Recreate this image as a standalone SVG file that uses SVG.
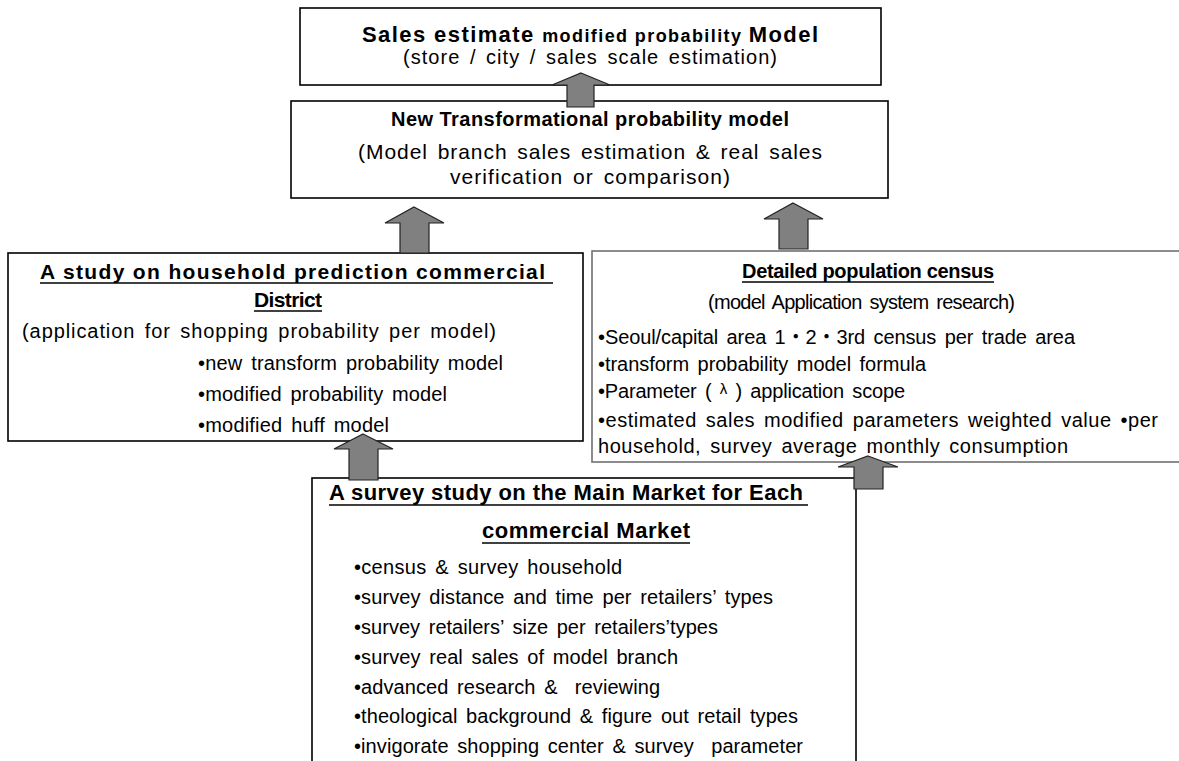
<svg xmlns="http://www.w3.org/2000/svg" width="1179" height="761" viewBox="0 0 1179 761">
<defs>
<style>
.box{fill:#fff;stroke:#000;stroke-width:1.6}
.gray{stroke:#707070}
text{font-family:"Liberation Sans",Arial,"Noto Sans CJK KR",sans-serif;fill:#000}
.b{font-weight:bold}
.r{font-size:20px;word-spacing:3px}
.ul{stroke:#000;stroke-width:1.3}
.arrow{fill:#808080;stroke:#222;stroke-width:1.2}
</style>
</defs>
<rect width="1179" height="761" fill="#fff"/>

<g id="node-sales-estimate">
<rect class="box" x="300" y="8" width="581" height="77"/>
<text class="b" x="590" y="42" text-anchor="middle" textLength="456" lengthAdjust="spacing"><tspan font-size="22">Sales estimate </tspan><tspan font-size="18">modified probability </tspan><tspan font-size="22">Model</tspan></text>
<text class="r" x="590" y="64" text-anchor="middle" font-size="21" textLength="374" lengthAdjust="spacing">(store / city / sales scale estimation)</text>
</g>

<g id="node-new-transformational">
<rect class="box" x="291" y="101" width="597" height="97"/>
<text class="b" x="590" y="126" text-anchor="middle" font-size="20" textLength="398" lengthAdjust="spacing">New Transformational probability model</text>
<text class="r" x="590" y="159" text-anchor="middle" style="font-size:21px" textLength="464" lengthAdjust="spacing">(Model branch sales estimation &amp; real sales</text>
<text class="r" x="590" y="184" text-anchor="middle" style="font-size:21px" textLength="280" lengthAdjust="spacing">verification or comparison)</text>
</g>

<g id="node-household-prediction">
<rect class="box" x="8" y="253" width="575" height="188"/>
<text class="b" x="40" y="279" font-size="21" textLength="505" lengthAdjust="spacing">A study on household prediction commercial</text>
<line class="ul" x1="40" y1="283" x2="553" y2="283"/>
<text class="b" x="254" y="307" font-size="21" textLength="68" lengthAdjust="spacing">District</text>
<line class="ul" x1="254" y1="311" x2="322" y2="311"/>
<text class="r" x="22" y="338" textLength="474" lengthAdjust="spacing">(application for shopping probability per model)</text>
<text class="r" x="198" y="370" textLength="305" lengthAdjust="spacing">•new transform probability model</text>
<text class="r" x="198" y="401" textLength="249" lengthAdjust="spacing">•modified probability model</text>
<text class="r" x="198" y="432" textLength="191" lengthAdjust="spacing">•modified huff model</text>
</g>

<g id="node-population-census">
<rect class="box gray" x="592" y="251" width="600" height="211"/>
<text class="b" x="742" y="278" font-size="20" textLength="252" lengthAdjust="spacing">Detailed population census</text>
<line class="ul" x1="742" y1="282" x2="994" y2="282"/>
<text class="r" x="708" y="309" textLength="307" lengthAdjust="spacing">(model Application system research)</text>
<text class="r" x="598" y="344" textLength="477" lengthAdjust="spacing">•Seoul/capital area 1・2・3rd census per trade area</text>
<text class="r" x="598" y="371" textLength="328" lengthAdjust="spacing">•transform probability model formula</text>
<text class="r" x="598" y="398" textLength="307" lengthAdjust="spacing">•Parameter ( <tspan font-size="15" dy="-4">λ</tspan><tspan dy="4"> ) application scope</tspan></text>
<text class="r" x="598" y="427" textLength="560" lengthAdjust="spacing">•estimated sales modified parameters weighted value •per</text>
<text class="r" x="598" y="453" textLength="470" lengthAdjust="spacing">household, survey average monthly consumption</text>
</g>

<g id="node-survey-study">
<rect class="box" x="312" y="478" width="544" height="300"/>
<text class="b" x="329" y="500" font-size="22" textLength="474" lengthAdjust="spacing">A survey study on the Main Market for Each</text>
<line class="ul" x1="329" y1="505" x2="808" y2="505"/>
<text class="b" x="482" y="538" font-size="22" textLength="208" lengthAdjust="spacing">commercial Market</text>
<line class="ul" x1="482" y1="543" x2="690" y2="543"/>
<text class="r" x="354" y="574" textLength="268" lengthAdjust="spacing">•census &amp; survey household</text>
<text class="r" x="354" y="604" textLength="419" lengthAdjust="spacing">•survey distance and time per retailers’ types</text>
<text class="r" x="354" y="634" textLength="364" lengthAdjust="spacing">•survey retailers’ size per retailers’types</text>
<text class="r" x="354" y="664" textLength="324" lengthAdjust="spacing">•survey real sales of model branch</text>
<text class="r" x="354" y="694" textLength="306" lengthAdjust="spacing" xml:space="preserve">•advanced research &amp;  reviewing</text>
<text class="r" x="354" y="723" textLength="444" lengthAdjust="spacing">•theological background &amp; figure out retail types</text>
<text class="r" x="354" y="753" textLength="449" lengthAdjust="spacing" xml:space="preserve">•invigorate shopping center &amp; survey  parameter</text>
</g>

<g id="connectors">
<polygon class="arrow" points="581,73 610,85 594,85 594,107 567,107 567,85 552,85"/>
<polygon class="arrow" points="414,207 444,223 429,223 429,253 400,253 400,223 385,223"/>
<polygon class="arrow" points="793,203 823,219 808,219 808,249 779,249 779,219 764,219"/>
<polygon class="arrow" points="363,434 393,449 378,449 378,480 349,480 349,449 334,449"/>
<polygon class="arrow" points="868,456 898,467 883,467 883,489 854,489 854,467 838,467"/>
</g>
</svg>
